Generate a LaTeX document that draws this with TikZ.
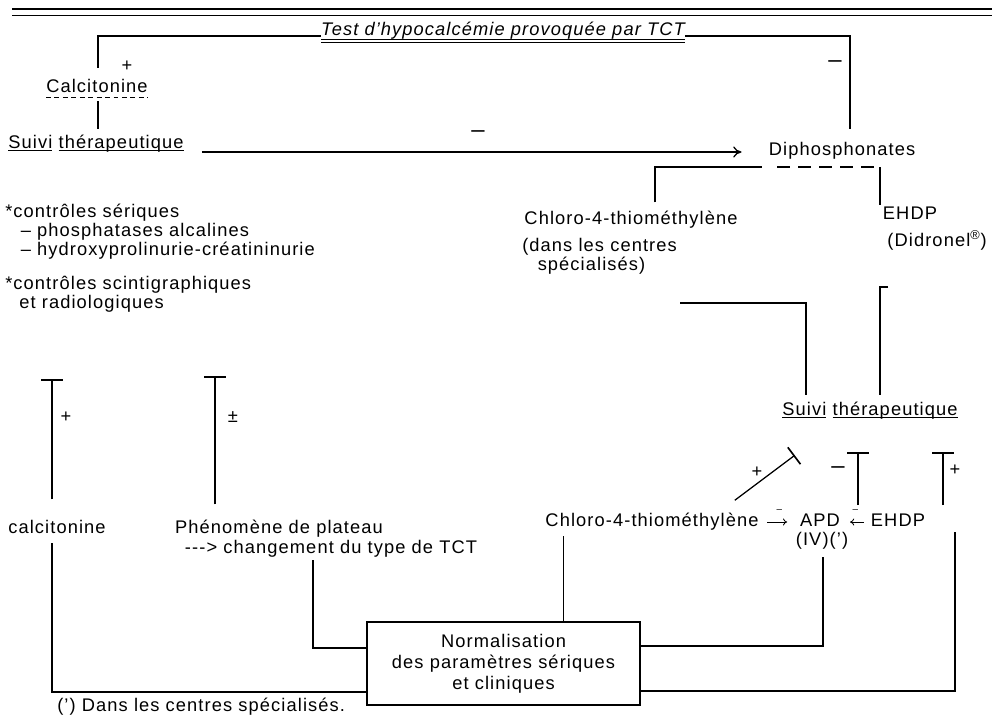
\documentclass[tikz,border=0pt]{standalone}
\usepackage{fontspec}
\setmainfont{Liberation Sans}[LetterSpace=6]
\usetikzlibrary{arrows.meta,calc}
\newcommand\ulw[1]{\setbox0\hbox{#1}\rlap{\rule[-2.2pt]{\wd0}{0.6pt}}\box0}
\newcommand\dulw[1]{\setbox0\hbox{#1}\rlap{\rule[-3pt]{\wd0}{0.5pt}}\rlap{\rule[-5.4pt]{\wd0}{0.5pt}}\box0}

\begin{document}
\begin{tikzpicture}[x=0.025cm,y=-0.025cm,
  txt/.style={inner sep=0pt,anchor=base,font=\fontsize{13}{13.2}\selectfont},
  sgn/.style={inner sep=0pt,font=\fontsize{13}{14}\selectfont},
  neg/.style={inner sep=0pt,font=\fontsize{17}{18}\selectfont},
  link/.style={line width=0.9pt},
  blk/.style={line width=0.9pt,-{Bar[width=15pt,line width=1.2pt]}},
  arr/.style={line width=0.6pt,-{To[length=3pt,width=5pt]}}]
\useasboundingbox (0,0) rectangle (992,718);

\draw[line width=2pt] (12,9) -- (992,9);
\draw[line width=0.7pt] (12,15) -- (992,15);

\node[txt] (test) at (503,35) {\itshape\dulw{Test d'hypocalcémie provoquée par TCT}};
\node[txt] (calc) at (97,92) {Calcitonine};
\node[txt] (suivi) at (96,148) {\ulw{Suivi}\ \ulw{thérapeutique}};
\node[txt] (diph) at (842,155) {Diphosphonates};
\node[txt] (chl) at (631,224) {Chloro-4-thiométhylène};
\node[txt,anchor=base west,align=left,font=\fontsize{13}{13.5}\selectfont] (chlnote) at (522,270) {(dans les centres\\\hspace*{11pt}spécialisés)};
\node[txt] (ehdp) at (910,219) {EHDP};
\node[txt] (didr) at (937,246) {(Didronel\textsuperscript{®})};
\node[txt,anchor=base west,align=left] (serum) at (5,255) {*contrôles sériques\\\hspace*{11pt}– phosphatases alcalines\\\hspace*{11pt}– hydroxyprolinurie-créatininurie};
\node[txt,anchor=base west,align=left] (scint) at (5,308) {*contrôles scintigraphiques\\\hspace*{10pt}et radiologiques};
\node[txt] (suivib) at (870,415) {\ulw{Suivi}\ \ulw{thérapeutique}};
\node[txt] (calcb) at (57,533) {calcitonine};
\node[txt] (plat) at (279,533) {Phénomène de plateau};
\node[txt] (chg) at (331,553) {{-}{-}{-}> changement du type de TCT};
\node[txt] (chlb) at (652,526) {Chloro-4-thiométhylène};
\node[txt] (apd) at (820,526) {APD};
\node[txt] (iv) at (822,545) {(IV)(')};
\node[txt] (ehdpb) at (898,526) {EHDP};
\node[txt,draw,line width=1pt,anchor=center,minimum width=6.825cm,minimum height=2.075cm,align=center,font=\fontsize{13}{15}\selectfont] (norm) at (503.5,663.5) {Normalisation\\des paramètres sériques\\et cliniques};
\node[txt,anchor=base west] (foot) at (57,711) {(') Dans les centres spécialisés.};

\node[sgn] (s1) at (127,66) {+};
\node[neg] (s2) at (835,64) {–};
\node[neg] (s3) at (478,134) {–};
\node[sgn] (s4) at (66,417) {+};
\node[sgn] (s5) at (233,417) {±};
\node[sgn] (s6) at (757,472) {+};
\node[neg] (s7) at (838,470) {–};
\node[sgn] (s8) at (955,470) {+};

\draw[link] ($(test.base west)+(0,1)$) -| ($(calc.north)+(1,-10)$);
\draw[link] ($(test.base east)+(0,1)$) -| ($(diph.north)+(8,-12)$);
\draw[dash pattern=on 3.5pt off 2.5pt,line width=0.6pt] ($(calc.base west)+(0,5)$) -- ($(calc.base east)+(0,5)$);
\draw[link] ($(calc.south)+(1,9)$) -- ($(suivi.north)+(2,-5)$);
\draw[link,-{To[length=6pt,width=8pt]}] ($(suivi.base east)+(18,4)$) -- ($(diph.base west)+(-27,-3)$);

\coordinate (dm) at (762,167);
\coordinate (dn) at (777,167);
\coordinate (dr) at (880,167);
\draw[link] ($(chl.north)+(24,-8)$) |- (dm);
\draw[link,dash pattern=on 9pt off 6pt] (dn) -- (dr);
\draw[link] (dr) -- ($(ehdp.north)+(-30,-1)$);

\coordinate (cl) at (680,303);
\coordinate (cr) at (888,287);
\draw[link] (cl) -| ($(suivib.north)+(-64,-6)$);
\draw[link] (cr) -| ($(suivib.north)+(10,-6)$);

\draw[blk] ($(calcb.north)+(-5,-20)$) -- ++(0,-120);
\draw[blk] ($(plat.north)+(-64,-15)$) -- ++(0,-128);
\draw[blk] ($(chlb.north east)+(-24,-12)$) -- ++(60,-45);
\draw[blk] ($(apd.north)+(38,-8)$) -- ++(0,-53);
\draw[blk] ($(ehdpb.north)+(45,-8)$) -- ++(0,-53);

\draw[arr,shorten <=6pt,shorten >=9pt] ($(chlb.base east)+(0,-4)$) -- node[above=3pt,font=\scriptsize] (m1) {–} ($(apd.base west)+(0,-4)$);
\draw[arr,shorten <=5pt,shorten >=7pt] ($(ehdpb.base west)+(0,-4)$) -- node[above=3pt,font=\scriptsize] (m2) {–} ($(apd.base east)+(0,-4)$);

\draw[link] ($(calcb.south)+(-5,10)$) |- ($(norm.west)+(0,28.5)$);
\draw[link] ($(chg.south)+(-18,3)$) |- ($(norm.west)+(0,-15.5)$);
\coordinate (c5) at ($(chlb.south west)+(18,6)$);
\draw[link] (c5) -- (c5 |- norm.north);
\draw[link] ($(iv.south)+(1,8)$) |- ($(norm.east)+(0,-17.5)$);
\draw[link] ($(ehdpb.south)+(57,6)$) |- ($(norm.east)+(0,27.5)$);
\end{tikzpicture}
\end{document}
